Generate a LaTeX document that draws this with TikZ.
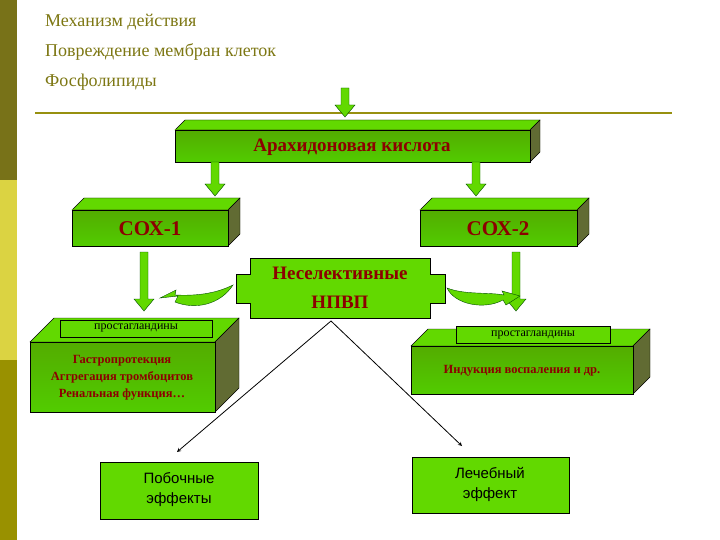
\documentclass[tikz,border=0pt]{standalone}
\usepackage{fontspec}
\setmainfont{Liberation Serif}
\newfontfamily\sansf{Liberation Sans}
\begin{document}
\begin{tikzpicture}[x=1pt,y=-1pt,
  title/.style={anchor=west,text=olive!85!black,font=\fontsize{18}{20}\selectfont,inner sep=0},
  lbl/.style={text=red!55!black,font=\bfseries\fontsize{19}{23}\selectfont,align=center},
  small/.style={text=red!55!black,font=\bfseries\fontsize{12.5}{17}\selectfont,align=center},
  pg/.style={font=\fontsize{12}{14}\selectfont,inner sep=0},
  front/.style={draw=black,top color=green!35!olive,bottom color=green!60!yellow!80!black},
  topf/.style={draw=black,fill=green!55!yellow!85!black},
  sidef/.style={draw=black,fill=olive!70!green!60!black},
  barrow/.style={draw=black!70!green,fill=green!55!yellow!85!black},
  flat/.style={draw=black,fill=green!55!yellow!85!black}]
\useasboundingbox (0,0) rectangle (720,540);
\fill[white] (0,0) rectangle (720,540);
\fill[olive!80!black] (0,0) rectangle (17,180);
\fill[yellow!55!olive!70!white] (0,180) rectangle (17,360);
\fill[olive!90!yellow] (0,360) rectangle (17,540);
\node[title] (t1) at (45,22) {Механизм действия};
\node[title] (t2) at (45,52) {Повреждение мембран клеток};
\node[title] (t3) at (45,82) {Фосфолипиды};
\draw[line width=2pt,olive!80!yellow!90!black] (35,113) -- (672,113);
% 3D box macro
\newcommand\boxthree[5]{% x1 y1 x2 y2 depth
  \filldraw[topf] (#1,#2) -- ++(#5,-#5) -- (#3+#5,#2-#5) -- (#3,#2) -- cycle;
  \filldraw[sidef] (#3,#2) -- (#3+#5,#2-#5) -- (#3+#5,#4-#5) -- (#3,#4) -- cycle;
  \filldraw[front] (#1,#2) rectangle (#3,#4);}
\newcommand\dnarr[3]{% x ytop ybot
  \filldraw[barrow] (#1-4,#2) -- (#1+4,#2) -- (#1+4,#3-12) -- (#1+10,#3-12) -- (#1,#3) -- (#1-10,#3-12) -- (#1-4,#3-12) -- cycle;}
\dnarr{345}{88}{117}
\boxthree{175}{130}{530}{162}{10}
\node[lbl] (ak) at (352,147) {Арахидоновая кислота};
\dnarr{215}{162}{196}
\dnarr{476}{162}{196}
\boxthree{72}{210}{228}{246}{12}
\node[lbl,font=\bfseries\fontsize{21}{23}\selectfont] (c1) at (150,229) {СОХ-1};
\boxthree{420}{210}{577}{246}{12}
\node[lbl,font=\bfseries\fontsize{21}{23}\selectfont] (c2) at (498,229) {СОХ-2};
% NSAID cross box
\filldraw[flat] (250,258) -- (430,258) -- (430,274) -- (445,274) -- (445,303) -- (430,303) -- (430,318) -- (250,318) -- (250,303) -- (236,303) -- (236,274) -- (250,274) -- cycle;
\node[lbl,font=\bfseries\fontsize{19}{29}\selectfont] (nsaid) at (340,288) {Неселективные\\НПВП};
\dnarr{144}{252}{311}
\dnarr{516}{252}{311}
% curved arrows
\filldraw[barrow] (233,285) .. controls (220,305) and (195,310) .. (175,302) -- (178,296) -- (160,298) -- (176,290) -- (175,295)
  .. controls (195,296) and (215,294) .. (233,285) -- cycle;
\filldraw[barrow] (447,288) .. controls (455,305) and (485,310) .. (503,300) -- (506,305) -- (520,296) -- (502,291) -- (504,295)
  .. controls (488,292) and (465,295) .. (447,288) -- cycle;
% bottom 3D boxes
\boxthree{30}{342}{215}{412}{24}
\filldraw[flat] (60,320) rectangle (212,337);
\node[pg] (pg1) at (136,328) {простагландины};
\node[small] (e1) at (122,378) {Гастропротекция\\Аггрегация тромбоцитов\\Ренальная функция…};
\boxthree{411}{346}{633}{394}{17}
\filldraw[flat] (456,326) rectangle (610,343);
\node[pg] (pg2) at (533,335) {простагландины};
\node[small] (e2) at (522,371) {Индукция воспаления и др.};
% apex lines
\coordinate (apex) at (331,321);
\filldraw[flat] (100,462) rectangle (258,519);
\node[font=\sansf\fontsize{15}{20}\selectfont,align=center] (side) at (179,490) {Побочные\\эффекты};
\filldraw[flat] (412,457) rectangle (569,513);
\node[font=\sansf\fontsize{15}{20}\selectfont,align=center] (cure) at (490,484) {Лечебный\\эффект};
\draw[-stealth,thick] (apex) -- (177,452);
\draw[-stealth,thick] (apex) -- (462,446);
\end{tikzpicture}
\end{document}
